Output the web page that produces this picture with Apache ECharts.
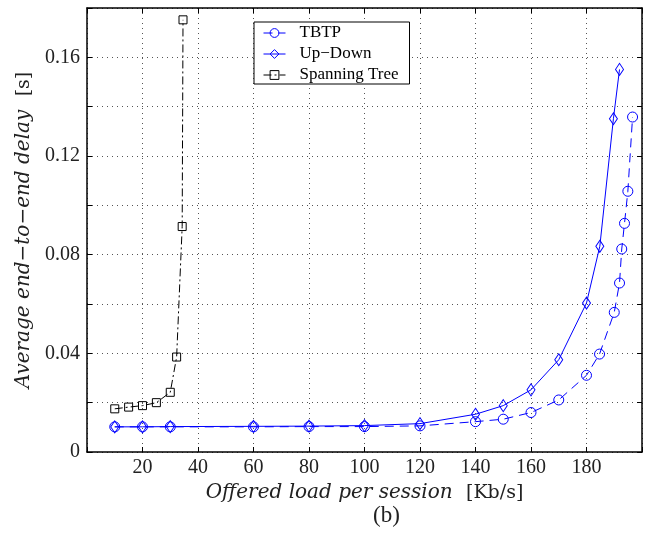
<!DOCTYPE html>
<html><head><meta charset="utf-8">
<script src="https://cdn.jsdelivr.net/npm/echarts@6/dist/echarts.min.js"></script>
<style>html,body{margin:0;padding:0;background:#fff}#c{width:645px;height:536px}</style>
</head><body><div id="c"></div>
<script>
var xTBTP = [10,20,30,60,80,100,120,140,150,160,170,180,184.7,190,191.9,192.7,193.7,194.9,196.6];
var yTBTP = [0.0102,0.0102,0.0102,0.0102,0.0103,0.0103,0.0106,0.0123,0.0133,0.0160,0.0211,0.0311,0.0397,0.0566,0.0685,0.0823,0.0927,0.1057,0.1358];
var xUpDown = [10,20,30,60,80,100,120,140,150,160,170,180,184.8,189.7,191.9];
var yUpDown = [0.0102,0.0102,0.0103,0.0104,0.0105,0.0107,0.0115,0.0153,0.0188,0.0252,0.0374,0.0604,0.0834,0.1351,0.1551];
var xSpan = [10,15,20,25,30,32.3,34.3,34.6];
var ySpan = [0.0175,0.0182,0.0188,0.0200,0.0242,0.0385,0.0914,0.1752];
var seriesNames = ['TBTP','Up\u2212Down','Spanning Tree'];
var xTickLabels = [20,40,60,80,100,120,140,160,180];
var yTickLabels = [0,0.04,0.08,0.12,0.16];

function pairs(xs, ys){ return xs.map(function(x,i){return [x, ys[i]];}); }
var serif = 'Liberation Serif, DejaVu Serif, serif';
var wide = 'DejaVu Serif, Liberation Serif, serif';
var chart = echarts.init(document.getElementById('c'), null, {renderer:'canvas'});
var tickStyle = {show:true, inside:true, length:5, lineStyle:{color:'#000', width:1}};
var gridLine = {show:true, lineStyle:{color:'#555', width:1, type:[1,4]}};
chart.setOption({
  animation:false,
  backgroundColor:'#fff',
  grid:{left:87, top:8, right:-3, bottom:84, containLabel:false},
  legend:{
    orient:'vertical', left:254, top:22,
    backgroundColor:'#fff', borderColor:'#000', borderWidth:1,
    padding:[2,11,0,9], itemWidth:22, itemHeight:11, itemGap:3,
    lineStyle:{width:1},
    itemStyle:{borderWidth:1},
    textStyle:{fontFamily:serif, fontSize:17, color:'#000', lineHeight:18, padding:[0,0,0,9]},
    data:seriesNames
  },
  xAxis:[{
    type:'value', min:0, max:200, interval:20,
    axisLine:{show:true, onZero:false, lineStyle:{color:'#000', width:1.5}},
    axisTick:tickStyle,
    axisLabel:{color:'#222', fontFamily:serif, fontSize:20, margin:6,
      formatter:function(v){return xTickLabels.indexOf(v)>=0 ? String(v) : '';}},
    splitLine:gridLine,
    name:'{i|Offered load per session}    {r|[Kb/s]}',
    nameLocation:'middle', nameGap:30,
    nameTextStyle:{rich:{
      i:{fontFamily:wide, fontStyle:'italic', fontSize:20, color:'#222'},
      r:{fontFamily:wide, fontSize:19, color:'#222'}}}
  },{
    type:'value', position:'top', min:0, max:200, interval:20,
    axisLine:{show:true, onZero:false, lineStyle:{color:'#000', width:1.5}},
    axisTick:tickStyle, axisLabel:{show:false}, splitLine:{show:false}
  }],
  yAxis:[{
    type:'value', min:0, max:0.18, interval:0.02,
    axisLine:{show:true, onZero:false, lineStyle:{color:'#000', width:1.5}},
    axisTick:tickStyle,
    axisLabel:{color:'#222', fontFamily:serif, fontSize:20, margin:7,
      formatter:function(v){
        for (var k=0;k<yTickLabels.length;k++){ if (Math.abs(v-yTickLabels[k])<1e-9) return v===0?'0':yTickLabels[k].toFixed(2); }
        return '';}},
    splitLine:gridLine,
    name:'{i|Average end\u2212to\u2212end delay}    {r|[s]}',
    nameLocation:'middle', nameGap:52, nameRotate:90,
    nameTextStyle:{rich:{
      i:{fontFamily:wide, fontStyle:'italic', fontSize:20, color:'#222'},
      r:{fontFamily:wide, fontSize:19, color:'#222'}}}
  },{
    type:'value', position:'right', min:0, max:0.18, interval:0.02,
    axisLine:{show:true, onZero:false, lineStyle:{color:'#000', width:1.5}},
    axisTick:tickStyle, axisLabel:{show:false}, splitLine:{show:false}
  }],
  graphic:[{type:'text', left:373, top:504, style:{text:'(b)', font:'23px Liberation Serif', fill:'#222'}}],
  series:[{
    name:seriesNames[0], type:'line', data:pairs(xTBTP,yTBTP),
    symbol:'circle', symbolSize:10, showAllSymbol:true,
    lineStyle:{color:'#0000ff', width:1, type:[9,6]},
    itemStyle:{color:'rgba(0,0,0,0)', borderColor:'#0000ff', borderWidth:1}
  },{
    name:seriesNames[1], type:'line', data:pairs(xUpDown,yUpDown),
    symbol:'diamond', symbolSize:[8,12], showAllSymbol:true,
    lineStyle:{color:'#0000ff', width:1},
    itemStyle:{color:'rgba(0,0,0,0)', borderColor:'#0000ff', borderWidth:1}
  },{
    name:seriesNames[2], type:'line', data:pairs(xSpan,ySpan),
    symbol:'rect', symbolSize:8, showAllSymbol:true,
    lineStyle:{color:'#000', width:1, type:[8,3,2,3]},
    itemStyle:{color:'rgba(0,0,0,0)', borderColor:'#000', borderWidth:1}
  }]
});
</script></body></html>
